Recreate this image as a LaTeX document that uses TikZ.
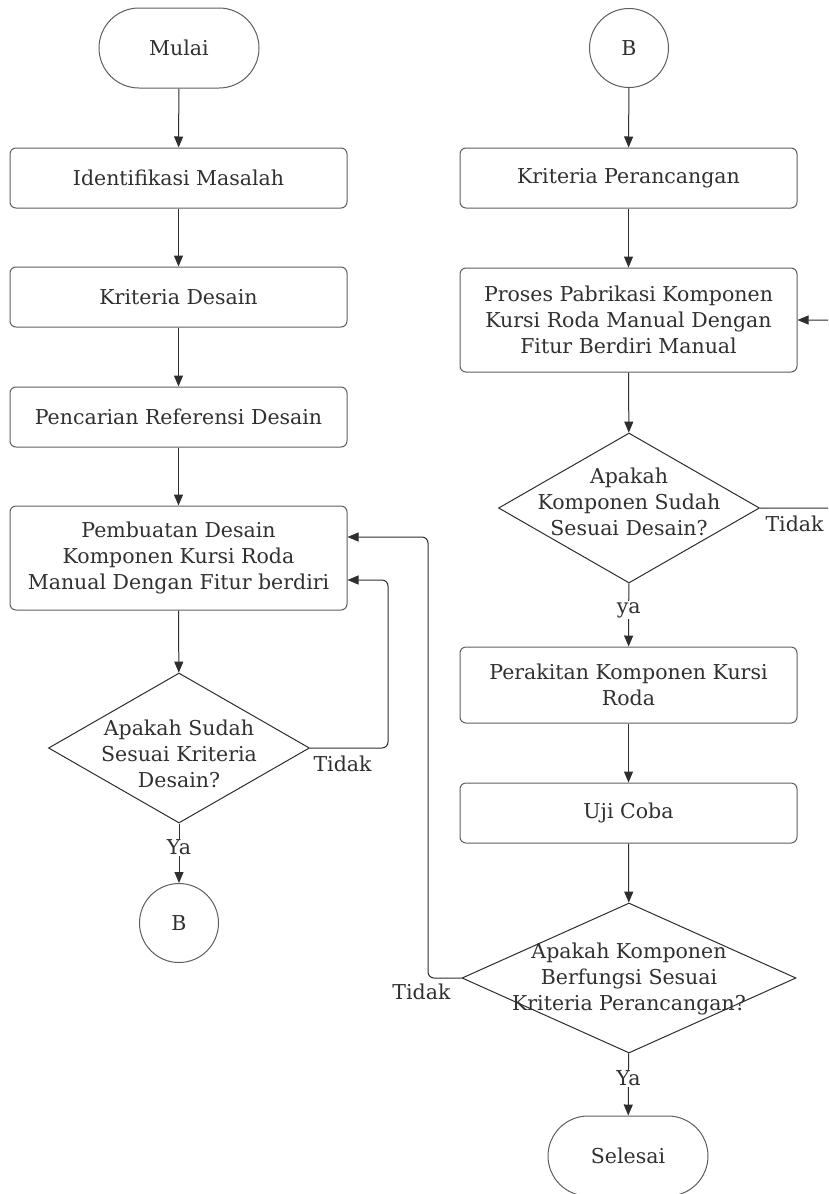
\documentclass[tikz,border=0pt]{standalone}
\usepackage{fontspec}
\setmainfont{DejaVu Serif}
\usetikzlibrary{shapes.geometric,shapes.misc,arrows.meta,calc}
\definecolor{txt}{HTML}{303030}
\definecolor{edge}{HTML}{5E5E5E}
\definecolor{lin}{HTML}{2E2E2E}
\begin{document}
\begin{tikzpicture}[x=1pt,y=-1pt,
  font=\fontsize{20.5}{26}\selectfont, text=txt,
  proc/.style={draw=edge, line width=1pt, rounded corners=6pt, minimum width=337pt, align=center, inner sep=0pt},
  term/.style={draw=edge, line width=1pt, rounded rectangle, minimum width=160pt, minimum height=80pt, inner sep=0pt},
  conn/.style={draw=edge, line width=1pt, circle, minimum size=79pt, inner sep=0pt},
  dec/.style={draw=lin, line width=1pt, diamond, inner sep=0pt},
  arr/.style={draw=lin, line width=1pt, -{Triangle[length=11pt,width=9pt]}},
  lab/.style={fill=white, inner sep=1pt},
]
\useasboundingbox (0,0) rectangle (828,1194);
\clip (0,0) rectangle (828,1194);
\fill[white] (0,0) rectangle (828,1194);
% left column
\node[term] (mulai) at (179,48) {Mulai};
\node[proc, minimum height=60pt] (id) at (178.5,178) {Identifikasi Masalah};
\node[proc, minimum height=60pt] (kd) at (178.5,297) {Kriteria Desain};
\node[proc, minimum height=60pt] (ref) at (178.5,417) {Pencarian Referensi Desain};
\node[proc, minimum height=104pt] (pemb) at (178.5,558) {Pembuatan Desain\\Komponen Kursi Roda\\Manual Dengan Fitur berdiri};
\node[dec, minimum width=261pt, minimum height=150pt, aspect=1.74] (d1) at (179,748) {};
\node[align=center] (d1t) at (179,754) {Apakah Sudah\\Sesuai Kriteria\\Desain?};
\node[conn] (b1) at (179,923) {B};
% right column
\node[conn] (b2) at (629,48) {B};
\node[proc, minimum height=60pt] (kp) at (628.5,178) {Kriteria Perancangan};
\node[proc, minimum height=104pt] (pros) at (628.5,320) {Proses Pabrikasi Komponen\\Kursi Roda Manual Dengan\\Fitur Berdiri Manual};
\node[dec, minimum width=261pt, minimum height=150pt, aspect=1.74] (d2) at (629,508) {};
\node[align=center] (d2t) at (629,502) {Apakah\\Komponen Sudah\\Sesuai Desain?};
\node[proc, minimum height=76pt] (rak) at (628.5,685) {Perakitan Komponen Kursi\\Roda};
\node[proc, minimum height=60pt] (uji) at (628.5,813) {Uji Coba};
\node[dec, minimum width=334pt, minimum height=150pt, aspect=2.23] (d3) at (629,978) {};
\node[align=center] (d3t) at (629,979) {Apakah Komponen\\Berfungsi Sesuai\\Kriteria Perancangan?};
\node[term] (sel) at (628,1156) {Selesai};
% straight connectors
\draw[arr] (mulai) -- (id);
\draw[arr] (id) -- (kd);
\draw[arr] (kd) -- (ref);
\draw[arr] (ref) -- (pemb);
\draw[arr] (pemb) -- (d1);
\draw[arr] (d1) -- node[lab, pos=0.4] (ya1) {Ya} (b1);
\draw[arr] (b2) -- (kp);
\draw[arr] (kp) -- (pros);
\draw[arr] (pros) -- (d2);
\draw[arr] (d2) -- node[lab, pos=0.42] (ya2) {ya} (rak);
\draw[arr] (rak) -- (uji);
\draw[arr] (uji) -- (d3);
\draw[arr] (d3) -- node[lab, pos=0.4] (ya3) {Ya} (sel);
% loops
\coordinate (c1) at (388,580);
\draw[arr, rounded corners=6pt] (d1.east) -| (c1) -- (c1 -| pemb.east);
\node[anchor=north west] (t1) at (310,752) {Tidak};
\coordinate (c2) at (428,537);
\draw[arr, rounded corners=6pt] (d3.west) -| (c2) -- (c2 -| pemb.east);
\node[anchor=north east] (t3) at (454,980) {Tidak};
\coordinate (c3) at (860,320);
\draw[arr, rounded corners=6pt] (d2.east) -| (c3) -- (pros.east);
\node[anchor=north west] (t2) at (762,512) {Tidak};
\end{tikzpicture}
\end{document}
